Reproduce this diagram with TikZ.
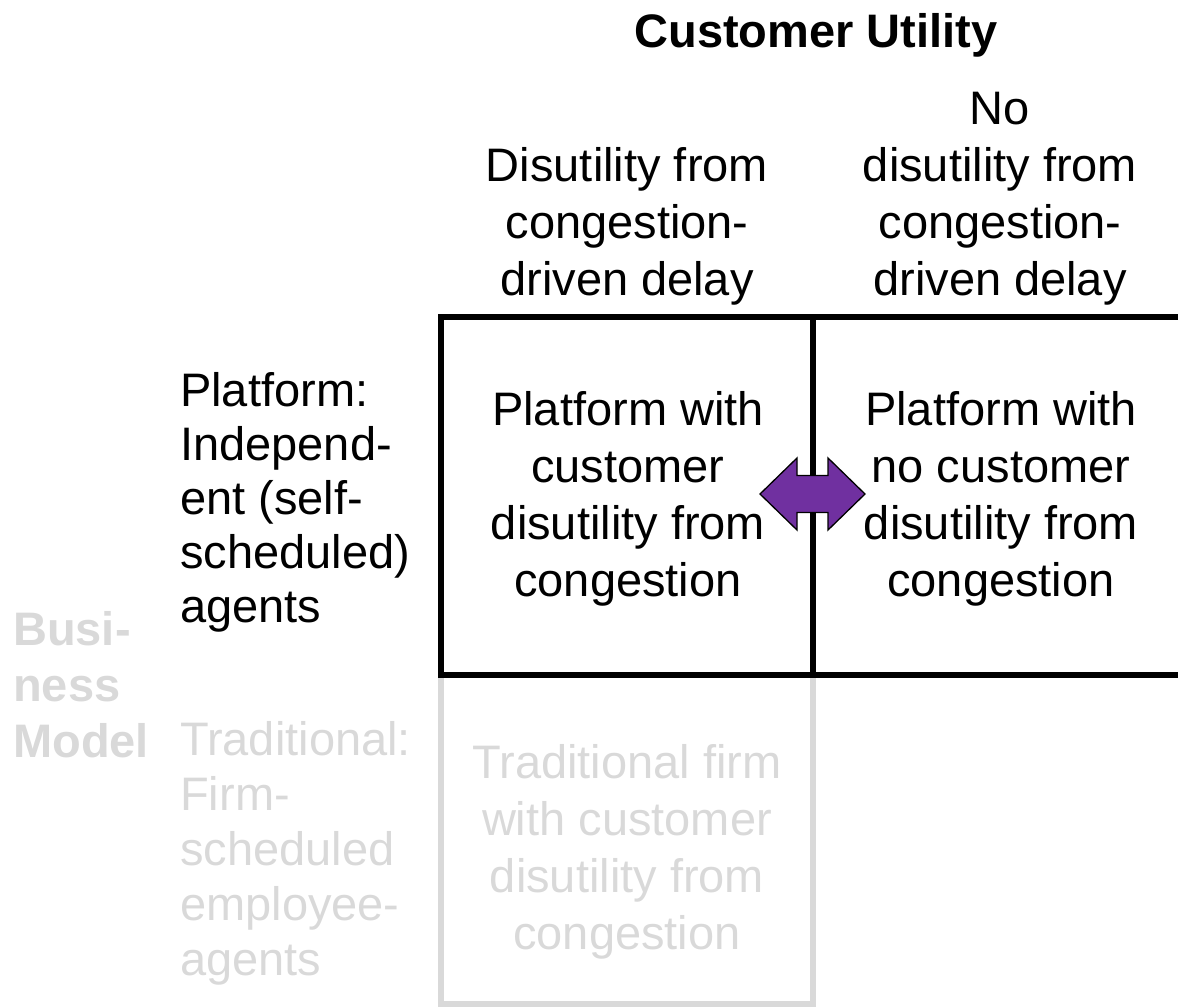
\documentclass[tikz,border=0pt]{standalone}
\usepackage{fontspec}
\usetikzlibrary{calc}
\setmainfont{Liberation Sans}
\definecolor{faint}{HTML}{D9D9D9}
\definecolor{arrowpurple}{HTML}{7030A0}
\begin{document}
\begin{tikzpicture}[x=1pt,y=-1pt,
  txt/.style={inner sep=0pt, font=\fontsize{47}{57}\selectfont},
  ctr/.style={txt, align=center},
  lft/.style={txt, align=left, font=\fontsize{47}{54}\selectfont},
  rule/.style={line width=5.5pt, line join=miter},
  dim/.style={text=faint},
]
\useasboundingbox (0,0) rectangle (1178,1007);

% grid corners
\coordinate (tl) at (441,317);
\coordinate (tm) at (813,317);
\coordinate (tr) at (1178,317);
\coordinate (ml) at (441,675);
\coordinate (mm) at (813,675);
\coordinate (mr) at (1178,675);
\coordinate (bl) at (441,1004);
\coordinate (bm) at (813,1004);

% lower (traditional) cell, faded
\draw[rule, faint] (ml) -- (bl) -- (bm) -- (mm);
% upper (platform) cells
\draw[rule, black] (tr) -- (tl) -- (ml) -- (mr);
\draw[rule, black] (tm) -- (mm);

% title and column headers
\node[txt, font=\fontsize{47}{57}\selectfont\bfseries, anchor=base] (title) at (816,47) {Customer Utility};
\node[ctr, anchor=south] (colA) at (627,305) {Disutility from\\congestion-\\driven delay};
\node[ctr, anchor=south] (colB) at (1000,305) {No\\disutility from\\congestion-\\driven delay};

% row headers
\node[txt, dim, align=left, font=\fontsize{47}{56}\selectfont\bfseries, anchor=north west] (bm-label) at (13,611) {Busi-\\ness\\Model};
\node[lft, anchor=west] (rowA) at (180,502) {Platform:\\Independ-\\ent (self-\\scheduled)\\agents};
\node[lft, dim, anchor=west, font=\fontsize{47}{55}\selectfont] (rowB) at (180,853) {Traditional:\\Firm-\\scheduled\\employee-\\agents};

% cell contents
\node[ctr] (cellA) at (628,499) {Platform with\\customer\\disutility from\\congestion};
\node[ctr] (cellB) at (1001,499) {Platform with\\no customer\\disutility from\\congestion};
\node[ctr, dim] (cellC) at (627,852) {Traditional firm\\with customer\\disutility from\\congestion};

% two-way block arrow between the platform cells
\coordinate (arr) at (812.5,494);
\draw[fill=arrowpurple, draw=black, line width=1.3pt, line join=miter]
  ($(arr)+(-52.5,0)$) -- ($(arr)+(-15.5,-36)$) -- ($(arr)+(-15.5,-18.5)$)
  -- ($(arr)+(15.5,-18.5)$) -- ($(arr)+(15.5,-36)$) -- ($(arr)+(52.5,0)$)
  -- ($(arr)+(15.5,36)$) -- ($(arr)+(15.5,18.5)$) -- ($(arr)+(-15.5,18.5)$)
  -- ($(arr)+(-15.5,36)$) -- cycle;
\end{tikzpicture}
\end{document}
